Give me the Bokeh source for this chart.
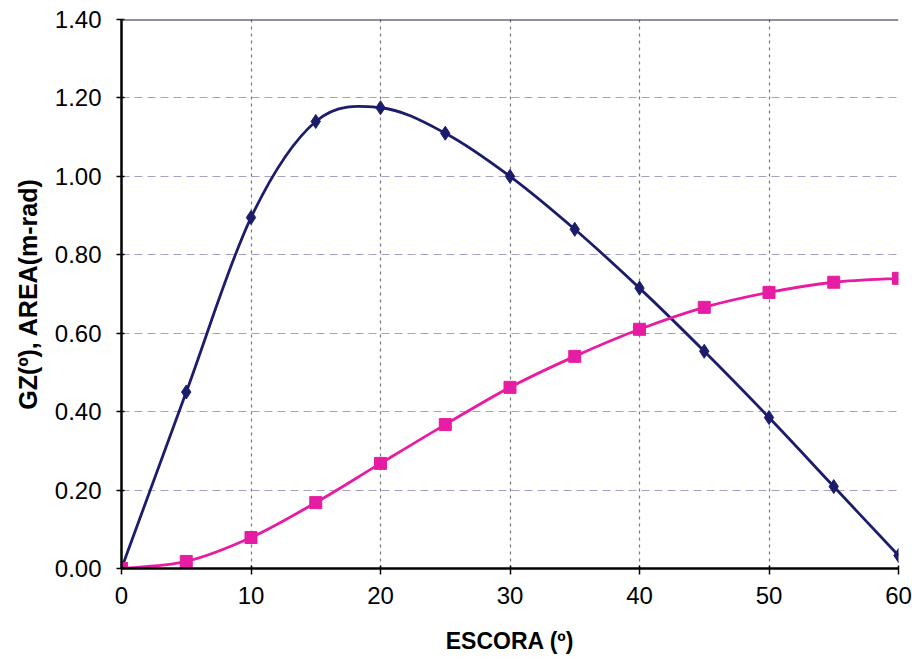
from bokeh.plotting import figure
from bokeh.models import Span, NumeralTickFormatter, FixedTicker, Range1d, ColumnDataSource
from bokeh.embed import file_html
from bokeh.resources import INLINE

# Heel angle (degrees)
escora = [0, 5, 10, 15, 20, 25, 30, 35, 40, 45, 50, 55, 60]
# Righting arm GZ
gz = [0.0, 0.45, 0.895, 1.14, 1.175, 1.11, 1.0, 0.865, 0.715, 0.554, 0.385, 0.209, 0.033]
# Area under the GZ curve (m-rad)
area = [0.0, 0.018, 0.079, 0.168, 0.268, 0.367, 0.462, 0.541, 0.61, 0.666, 0.704, 0.73, 0.74]

x_ticks = [0, 10, 20, 30, 40, 50, 60]
y_ticks = [0.0, 0.2, 0.4, 0.6, 0.8, 1.0, 1.2, 1.4]

FONT = "Liberation Sans"
NAVY = "#1c1c6c"
PINK = "#e61ca2"


def smooth_segments(xs, ys):
    """Cubic Bezier pieces (Catmull-Rom style) through every point."""
    n = len(xs)
    seg = dict(x0=[], y0=[], x1=[], y1=[], cx0=[], cy0=[], cx1=[], cy1=[])
    for i in range(n - 1):
        ip = max(i - 1, 0)
        inx = min(i + 2, n - 1)
        seg["x0"].append(xs[i]); seg["y0"].append(ys[i])
        seg["x1"].append(xs[i + 1]); seg["y1"].append(ys[i + 1])
        seg["cx0"].append(xs[i] + (xs[i + 1] - xs[ip]) / 6.0)
        seg["cy0"].append(ys[i] + (ys[i + 1] - ys[ip]) / 6.0)
        seg["cx1"].append(xs[i + 1] - (xs[inx] - xs[i]) / 6.0)
        seg["cy1"].append(ys[i + 1] - (ys[inx] - ys[i]) / 6.0)
    return ColumnDataSource(seg)


p = figure(width=912, height=659, output_backend="svg", toolbar_location=None,
           x_range=Range1d(0, 60), y_range=Range1d(0, 1.4))
p.min_border_left = 121
p.min_border_right = 14
p.min_border_top = 19
p.min_border_bottom = 91
p.outline_line_color = None
p.background_fill_color = "white"
p.border_fill_color = "white"

# grid
p.xgrid.ticker = FixedTicker(ticks=x_ticks)
p.ygrid.ticker = FixedTicker(ticks=y_ticks)
p.xgrid.grid_line_color = "#4a4a55"
p.xgrid.grid_line_alpha = 0.75
p.xgrid.grid_line_dash = "3 4"
p.xgrid.grid_line_width = 1.2
p.ygrid.grid_line_color = "#8a80b0"
p.ygrid.grid_line_alpha = 0.75
p.ygrid.grid_line_dash = "8 5"
p.ygrid.grid_line_width = 1.2

# top frame line
p.add_layout(Span(location=1.4, dimension="width", line_color="#2a2040", line_width=2))

# axes
for ax in (p.xaxis[0], p.yaxis[0]):
    ax.axis_line_color = "black"
    ax.axis_line_width = 2.5
    ax.major_tick_line_color = "black"
    ax.major_tick_line_width = 1.5
    ax.minor_tick_line_color = None
    ax.major_label_text_font = FONT
    ax.major_label_text_font_size = "24px"
    ax.major_label_text_color = "black"
    ax.axis_label_text_font = FONT
    ax.axis_label_text_font_style = "bold"
    ax.axis_label_text_color = "black"

p.xaxis.ticker = FixedTicker(ticks=x_ticks)
p.xaxis.major_tick_out = 6
p.xaxis.major_tick_in = 3
p.xaxis.major_label_standoff = 12
p.xaxis.axis_label = "ESCORA (º)"
p.xaxis.axis_label_text_font_size = "23px"
p.xaxis.axis_label_standoff = 21

p.yaxis.ticker = FixedTicker(ticks=y_ticks)
p.yaxis.formatter = NumeralTickFormatter(format="0.00")
p.yaxis.major_tick_out = 5
p.yaxis.major_tick_in = 3
p.yaxis.major_label_standoff = 15
p.yaxis.axis_label = "GZ(º), AREA(m-rad)"
p.yaxis.axis_label_text_font_size = "25px"
p.yaxis.axis_label_standoff = 10

# curves
p.bezier(x0="x0", y0="y0", x1="x1", y1="y1", cx0="cx0", cy0="cy0", cx1="cx1", cy1="cy1",
         source=smooth_segments(escora, gz), line_color=NAVY, line_width=2.8)
p.bezier(x0="x0", y0="y0", x1="x1", y1="y1", cx0="cx0", cy0="cy0", cx1="cx1", cy1="cy1",
         source=smooth_segments(escora, area), line_color=PINK, line_width=2.8)

p.scatter(escora, gz, marker="diamond", size=14, fill_color=NAVY, line_color=NAVY)
p.scatter(escora, area, marker="square", size=12, fill_color=PINK, line_color=PINK)

open("out.html", "w").write(file_html(p, INLINE))
